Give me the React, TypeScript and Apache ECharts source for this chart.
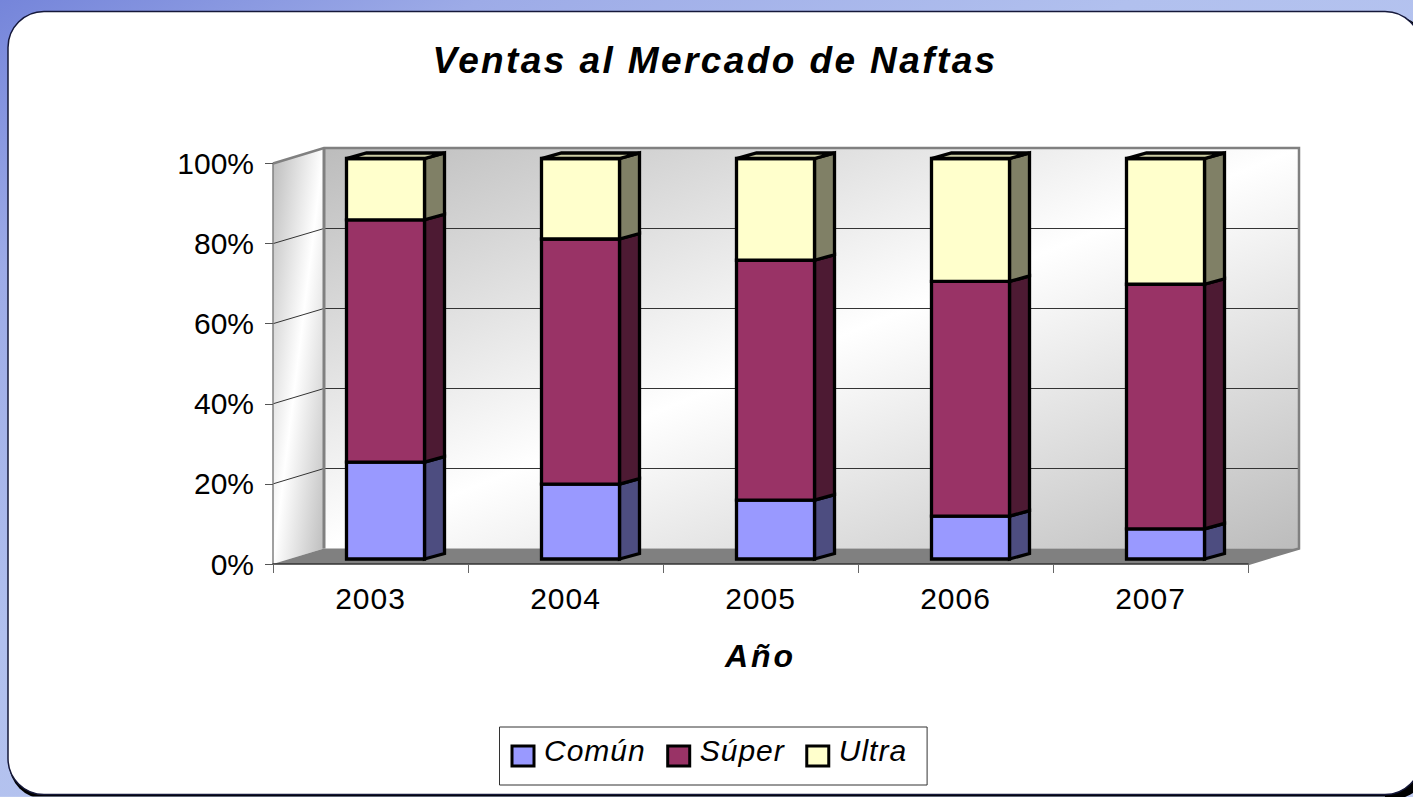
import React, { useEffect, useRef } from "react";
import * as echarts from "echarts";

const categories = ["2003", "2004", "2005", "2006", "2007"];
const comun = [24.2, 18.7, 14.7, 10.7, 7.5];
const super_ = [60.5, 61.2, 59.9, 58.6, 61.1];
const ultra = [15.3, 20.1, 25.4, 30.7, 31.4];
const seriesNames = ["Común", "Súper", "Ultra"];
const frontColors = ["#9999ff", "#993366", "#ffffcc"];
const sideColors = ["#4d4d80", "#4d1a33", "#808066"];
const topColors = ["#7a7acc", "#7a2952", "#cccca3"];

const FONT = "Liberation Sans";
const WALL_DX = 51;
const WALL_DY = -15.5;
const BAR_W = 78;
const BAR_DX = 15;
const BAR_DY = -5;
const DEPTH_X = 20;
const DEPTH_Y = -5.5;
const GREY = "#808080";
const WALL_GREY = "#bcbcbc";

const wallFill = () =>
  new echarts.graphic.LinearGradient(0, 0, 1, 1, [
    { offset: 0, color: WALL_GREY },
    { offset: 0.5, color: "#ffffff" },
    { offset: 1, color: WALL_GREY },
  ]);

function renderWalls(params: any, api: any) {
  const cs = params.coordSys;
  const x0 = cs.x;
  const x1 = cs.x + cs.width;
  const top = api.coord([0, 100])[1];
  const bottom = api.coord([0, 0])[1];
  const children: any[] = [
    {
      type: "polygon",
      shape: {
        points: [
          [x0, top],
          [x0 + WALL_DX, top + WALL_DY],
          [x0 + WALL_DX, bottom + WALL_DY],
          [x0, bottom],
        ],
      },
      style: { fill: wallFill() },
    },
    {
      type: "rect",
      shape: { x: x0 + WALL_DX, y: top + WALL_DY, width: cs.width, height: bottom - top },
      style: { fill: wallFill() },
    },
    {
      type: "polygon",
      shape: {
        points: [
          [x0, bottom],
          [x1, bottom],
          [x1 + WALL_DX, bottom + WALL_DY],
          [x0 + WALL_DX, bottom + WALL_DY],
        ],
      },
      style: { fill: GREY },
    },
  ];
  [20, 40, 60, 80].forEach((v) => {
    const y = api.coord([0, v])[1];
    const yBack = Math.round(y + WALL_DY) + 0.5;
    children.push({
      type: "polyline",
      shape: {
        points: [
          [x0, y],
          [x0 + WALL_DX, yBack],
          [x1 + WALL_DX, yBack],
        ],
      },
      style: { stroke: "#333", lineWidth: 1, fill: "none" },
    });
  });
  children.push({
    type: "polyline",
    shape: {
      points: [
        [x0, top],
        [x0 + WALL_DX, top + WALL_DY],
        [x1 + WALL_DX, top + WALL_DY],
        [x1 + WALL_DX, bottom + WALL_DY],
        [x1, bottom],
      ],
    },
    style: { stroke: GREY, lineWidth: 2.5, fill: "none", lineJoin: "miter" },
  });
  children.push({
    type: "line",
    shape: { x1: x0 + WALL_DX, y1: top + WALL_DY, x2: x0 + WALL_DX, y2: bottom + WALL_DY },
    style: { stroke: GREY, lineWidth: 3 },
  });
  return { type: "group", children };
}

function makeBarRenderer(s: number) {
  return (_params: any, api: any) => {
    const [cx, yStart] = api.coord([api.value(0), api.value(1)]);
    const yEnd = api.coord([api.value(0), api.value(2)])[1];
    const l = cx - BAR_W / 2 + BAR_DX;
    const r = l + BAR_W;
    const b = yStart + BAR_DY;
    const t = yEnd + BAR_DY;
    const stroke = { stroke: "#000", lineWidth: 3.3, lineJoin: "miter" };
    const children: any[] = [
      {
        type: "polygon",
        shape: {
          points: [
            [r, b],
            [r + DEPTH_X, b + DEPTH_Y],
            [r + DEPTH_X, t + DEPTH_Y],
            [r, t],
          ],
        },
        style: { fill: sideColors[s], ...stroke },
      },
      {
        type: "rect",
        shape: { x: l, y: t, width: BAR_W, height: b - t },
        style: { fill: frontColors[s], ...stroke },
      },
    ];
    if (s === 2) {
      children.push({
        type: "polygon",
        shape: {
          points: [
            [l, t],
            [l + DEPTH_X, t + DEPTH_Y],
            [r + DEPTH_X, t + DEPTH_Y],
            [r, t],
          ],
        },
        style: { fill: topColors[s], ...stroke },
      });
    }
    return { type: "group", children };
  };
}

function stackData() {
  const rows = [comun, super_, ultra];
  const base = categories.map(() => 0);
  return rows.map((row) =>
    row.map((v, i) => {
      const start = base[i];
      base[i] += v;
      return [i, start, base[i]];
    })
  );
}

const spacing: Record<string, number> = {
  "Ventas al Mercado de Naftas": 2.4,
  "Año": 3,
  "Común": 1,
  "Súper": 1,
  "Ultra": 1,
  "2003": 1,
  "2004": 1,
  "2005": 1,
  "2006": 1,
  "2007": 1,
};

export default function App() {
  const ref = useRef<HTMLDivElement>(null);
  useEffect(() => {
    document.body.style.margin = "0";
    document.body.style.overflow = "hidden";
    const chart = echarts.init(ref.current!, undefined, { renderer: "svg" });
    const stacked = stackData();
    chart.setOption({
      animation: false,
      backgroundColor: new echarts.graphic.LinearGradient(0, 0, 1, 1, [
        { offset: 0, color: "#7585da" },
        { offset: 0.17, color: "#9dabe7" },
        { offset: 0.4, color: "#b1c0ee" },
        { offset: 1, color: "#c0ccf2" },
      ]),
      graphic: [
        {
          type: "rect",
          z: 0,
          shape: { x: 9, y: 16, width: 1413, height: 783, r: 36 },
          style: { fill: "#000" },
        },
        {
          type: "rect",
          z: 0,
          shape: { x: 16, y: 16, width: 1413, height: 783, r: 36 },
          style: { fill: "#000" },
        },
        {
          type: "rect",
          z: 0,
          shape: { x: 0, y: 796.5, width: 1385, height: 1 },
          style: { fill: "#c4cff2" },
        },
        {
          type: "rect",
          z: 0,
          shape: { x: 8, y: 11.5, width: 1413, height: 783, r: 36 },
          style: { fill: "#fff", stroke: "#15183a", lineWidth: 1.5 },
        },
      ],
      title: {
        text: "Ventas al Mercado de Naftas",
        left: 715,
        top: 42,
        textAlign: "center",
        padding: 0,
        textStyle: {
          fontFamily: FONT,
          fontSize: 37,
          fontWeight: "bold",
          fontStyle: "italic",
          color: "#000",
        },
      },
      legend: {
        data: seriesNames.map((name, i) => ({
          name,
          icon: "rect",
          itemStyle: { color: frontColors[i], borderColor: "#000", borderWidth: 3 },
        })),
        left: 499.5,
        top: 727,
        itemWidth: 22,
        itemHeight: 20,
        itemGap: 25.5,
        padding: [14, 25, 14, 11],
        borderColor: "#333",
        borderWidth: 1,
        backgroundColor: "#fff",
        selectedMode: false,
        textStyle: {
          fontFamily: FONT,
          fontSize: 30,
          fontStyle: "italic",
          color: "#000",
          padding: [0, 0, 0, 5],
        },
      },
      grid: { left: 273, right: 165, top: 163.5, height: 400.5, containLabel: false },
      xAxis: {
        type: "category",
        data: categories,
        z: 3,
        name: "Año",
        nameLocation: "middle",
        nameGap: 76,
        nameTextStyle: {
          fontFamily: FONT,
          fontSize: 32,
          fontWeight: "bold",
          fontStyle: "italic",
          color: "#000",
        },
        axisLine: { show: true, lineStyle: { color: "#333", width: 1.5 } },
        axisTick: { show: true, length: 9, alignWithLabel: false, lineStyle: { color: "#666", width: 1 } },
        axisLabel: { fontFamily: FONT, fontSize: 30, color: "#000", margin: 19 },
      },
      yAxis: {
        type: "value",
        min: 0,
        max: 100,
        interval: 20,
        z: 3,
        splitLine: { show: false },
        axisLine: { show: true, lineStyle: { color: GREY, width: 1.5 } },
        axisTick: { show: true, length: 8, lineStyle: { color: "#555", width: 1 } },
        axisLabel: {
          formatter: "{value}%",
          fontFamily: FONT,
          fontSize: 30,
          color: "#000",
          margin: 19,
        },
      },
      series: [
        {
          type: "custom",
          name: "walls",
          z: 2,
          silent: true,
          data: [[0, 0]],
          encode: { x: 0, y: 1 },
          renderItem: renderWalls,
        },
        ...seriesNames.map((name, s) => ({
          type: "custom",
          name,
          z: 5 + s,
          itemStyle: { color: frontColors[s] },
          data: stacked[s],
          encode: { x: 0, y: [1, 2] },
          renderItem: makeBarRenderer(s),
        })),
      ],
    });
    const applySpacing = () => {
      ref.current?.querySelectorAll("text").forEach((el: any) => {
        const content = (el.textContent || "").trim();
        const sp = spacing[content];
        if (sp) el.style.letterSpacing = `${sp}px`;
        if (seriesNames.includes(content)) el.setAttribute("dy", "-6");
      });
    };
    chart.on("rendered", applySpacing);
    applySpacing();
    return () => chart.dispose();
  }, []);
  return (
    <div
      ref={ref}
      style={{ position: "fixed", left: 0, top: 0, width: 1413, height: 797 }}
    />
  );
}
